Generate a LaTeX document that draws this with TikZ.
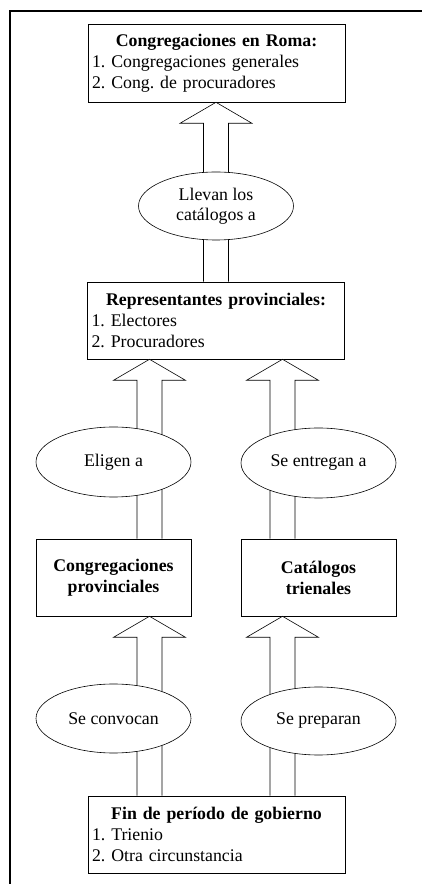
\documentclass[tikz,border=0pt]{standalone}
\usepackage{fontspec}
\setmainfont{Liberation Serif}
\usepackage{tikz}
\usetikzlibrary{calc, shapes.geometric}
\frenchspacing

\begin{document}
\begin{tikzpicture}[x=1pt, y=1pt, line width=0.6pt,
        caja/.style={draw, fill=white, minimum height=77, inner xsep=4, inner ysep=0, font=\fontsize{17.8}{21}\selectfont},
        lista/.style={caja, text width=249, align=left},
        bloque/.style={caja, minimum width=155, align=center, font=\fontsize{17.8}{21}\selectfont\bfseries},
        elipse/.style={draw, fill=white, ellipse, minimum width=155, minimum height=69, inner sep=0, align=center, font=\fontsize{17.8}{20}\selectfont},
        flecha/.style={draw, fill=white, line join=miter}]
        \useasboundingbox (0,0) rectangle (422,884);

        % marco
        \draw[line width=1.2pt] (10,0) -- (10,873) -- (422,873);

        % cajas
        \node[lista, minimum height=78] (roma) at (216.5,821) {{\centering\textbf{Congregaciones en Roma:}\par}1. Congregaciones generales\\2. Cong. de procuradores};
        \node[lista] (repr) at (216,563.5) {{\centering\textbf{Representantes provinciales:}\par}1. Electores\\2. Procuradores};
        \node[bloque] (congprov) at (113.5,306.5) {Congregaciones\\provinciales};
        \node[bloque] (catal) at (318.5,306.5) {Catálogos\\trienales};
        \node[lista] (fin) at (216.5,49.5) {{\centering\textbf{Fin de período de gobierno}\par}1. Trienio\\2. Otra circunstancia};

        % flechas
        \coordinate (xc) at (216,0);
        \coordinate (xi) at (149.5,0);
        \coordinate (xd) at (282.5,0);
        \foreach \xf/\de/\a in {xc/repr.north/roma.south, xi/congprov.north/repr.south, xd/catal.north/repr.south, xi/fin.north/congprov.south, xd/fin.north/catal.south}
        {
            \draw[flecha] let \p1=(\xf |- \de), \p2=(\xf |- \a) in
                (\x1-12.5pt,\y1) -- (\x1-12.5pt,\y2-21pt) -- (\x1-36pt,\y2-21pt) -- (\x2,\y2)
                -- (\x1+36pt,\y2-21pt) -- (\x1+12.5pt,\y2-21pt) -- (\x1+12.5pt,\y1);
        }

        % elipses
        \node[elipse, minimum height=68] (llevan) at (216,678) {Llevan los\\catálogos a};
        \node[elipse, minimum height=70] (eligen) at (113.5,422) {Eligen a};
        \node[elipse, minimum height=70] (entregan) at (318.5,421) {Se entregan a};
        \node[elipse] (convocan) at (113.5,165.5) {Se convocan};
        \node[elipse, minimum height=68] (preparan) at (318.5,163) {Se preparan};
\end{tikzpicture}
\end{document}
